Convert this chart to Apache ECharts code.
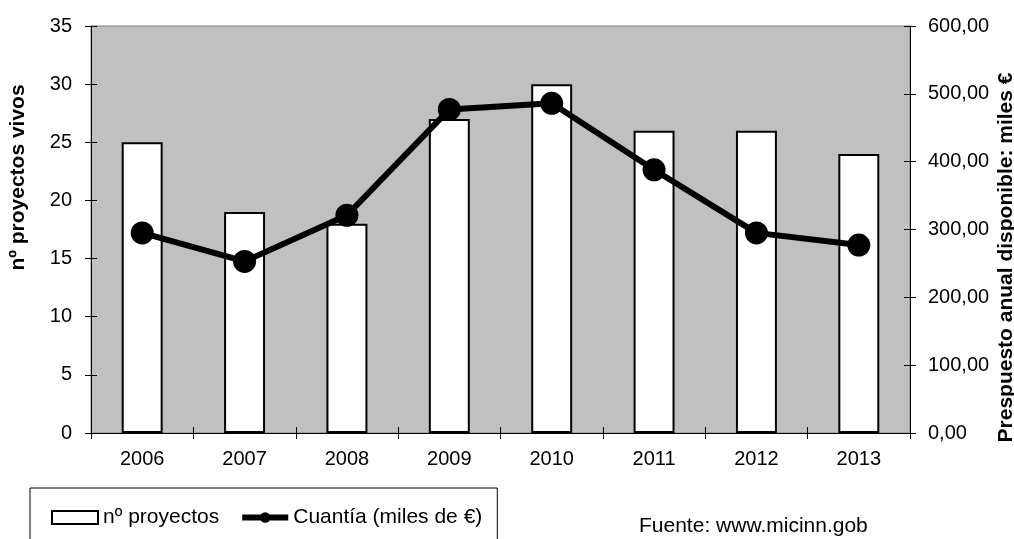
<!DOCTYPE html>
<html>
<head>
<meta charset="utf-8">
<script src="https://cdn.jsdelivr.net/npm/echarts@6/dist/echarts.min.js"></script>
<style>html,body{margin:0;padding:0;background:#fff}#c{width:1014px;height:539px}</style>
</head>
<body>
<div id="c"></div>
<script>
var years = ['2006','2007','2008','2009','2010','2011','2012','2013'];
var proyectos = [25, 19, 18, 27, 30, 26, 26, 24];
var cuantia = [295, 253, 321, 477, 486, 388, 295, 277];
var leftTicks = {min: 0, max: 35, interval: 5};
var rightTicks = {min: 0, max: 600, interval: 100};

var FONT = 'Liberation Sans, Arial, sans-serif';
var gridRect = {left: 91, right: 104, top: 26, bottom: 106, outerBoundsMode: 'none', containLabel: false};
var chart = echarts.init(document.getElementById('c'), null, {renderer: 'canvas'});
chart.setOption({
  animation: false,
  backgroundColor: '#fff',
  textStyle: {fontFamily: FONT, color: '#000'},
  grid: [
    Object.assign({show: true, backgroundColor: '#c0c0c0', borderColor: '#808080', borderWidth: 1}, gridRect),
    Object.assign({show: false}, gridRect)
  ],
  legend: {
    left: 30, top: 488,
    padding: [19, 15, 40, 21],
    itemWidth: 46, itemHeight: 13, itemGap: 20,
    borderColor: '#000', borderWidth: 1,
    textStyle: {fontSize: 21, color: '#000', fontFamily: FONT},
    data: [
      {name: 'nº proyectos', icon: 'rect', itemStyle: {color: '#fff', borderColor: '#000', borderWidth: 2}},
      {name: 'Cuantía (miles de €)', lineStyle: {width: 6, color: '#000'}, itemStyle: {color: '#000'}}
    ]
  },
  xAxis: [
    {type: 'category', gridIndex: 0, data: years, boundaryGap: true,
     axisLine: {lineStyle: {color: '#000', width: 1}},
     axisTick: {show: true, length: 6, lineStyle: {color: '#000'}},
     axisLabel: {fontSize: 20, color: '#000', margin: 16, fontFamily: FONT}},
    {type: 'category', gridIndex: 1, data: years, boundaryGap: true,
     axisLine: {show: false},
     axisTick: {show: true, inside: true, length: 6, lineStyle: {color: '#000'}},
     axisLabel: {show: false}}
  ],
  yAxis: [
    {type: 'value', gridIndex: 0, position: 'left', min: leftTicks.min, max: leftTicks.max, interval: leftTicks.interval,
     name: 'nº proyectos vivos', nameLocation: 'middle', nameGap: 62, nameRotate: 90, nameMoveOverlap: false,
     nameTextStyle: {fontSize: 21, fontWeight: 'bold', color: '#000', fontFamily: FONT, padding: [0, 0, 0, 104]},
     axisLine: {show: true, lineStyle: {color: '#000', width: 1}},
     axisTick: {show: true, length: 6, lineStyle: {color: '#000'}},
     splitLine: {show: false},
     axisLabel: {fontSize: 20, color: '#000', margin: 19, fontFamily: FONT}},
    {type: 'value', gridIndex: 0, position: 'right', min: rightTicks.min, max: rightTicks.max, interval: rightTicks.interval,
     name: 'Prespuesto anual disponible: miles €', nameLocation: 'middle', nameGap: 86, nameRotate: 90, nameMoveOverlap: false,
     nameTextStyle: {fontSize: 21, fontWeight: 'bold', color: '#000', fontFamily: FONT, padding: [0, 56, 0, 0]},
     axisLine: {show: true, lineStyle: {color: '#000', width: 1}},
     axisTick: {show: true, length: 6, lineStyle: {color: '#000'}},
     splitLine: {show: false},
     axisLabel: {fontSize: 20, color: '#000', margin: 18, fontFamily: FONT,
       formatter: function (v) { return v.toFixed(2).replace('.', ','); }}},
    {type: 'value', gridIndex: 1, position: 'left', min: leftTicks.min, max: leftTicks.max, interval: leftTicks.interval,
     axisLine: {show: false}, splitLine: {show: false}, axisLabel: {show: false},
     axisTick: {show: true, inside: true, length: 6, lineStyle: {color: '#000'}}},
    {type: 'value', gridIndex: 1, position: 'right', min: rightTicks.min, max: rightTicks.max, interval: rightTicks.interval,
     axisLine: {show: false}, splitLine: {show: false}, axisLabel: {show: false},
     axisTick: {show: true, inside: true, length: 6, lineStyle: {color: '#000'}}}
  ],
  series: [
    {name: 'nº proyectos', type: 'bar', xAxisIndex: 0, yAxisIndex: 0, data: proyectos,
     barWidth: '40%',
     itemStyle: {color: '#fff', borderColor: '#000', borderWidth: 2}},
    {name: 'Cuantía (miles de €)', type: 'line', xAxisIndex: 0, yAxisIndex: 1, data: cuantia,
     symbol: 'circle', symbolSize: 23,
     lineStyle: {color: '#000', width: 6},
     itemStyle: {color: '#000'}}
  ],
  graphic: [
    {type: 'text', left: 639, top: 516,
     style: {text: 'Fuente: www.micinn.gob', font: '21px ' + FONT, fill: '#000'}}
  ]
});
</script>
</body>
</html>
